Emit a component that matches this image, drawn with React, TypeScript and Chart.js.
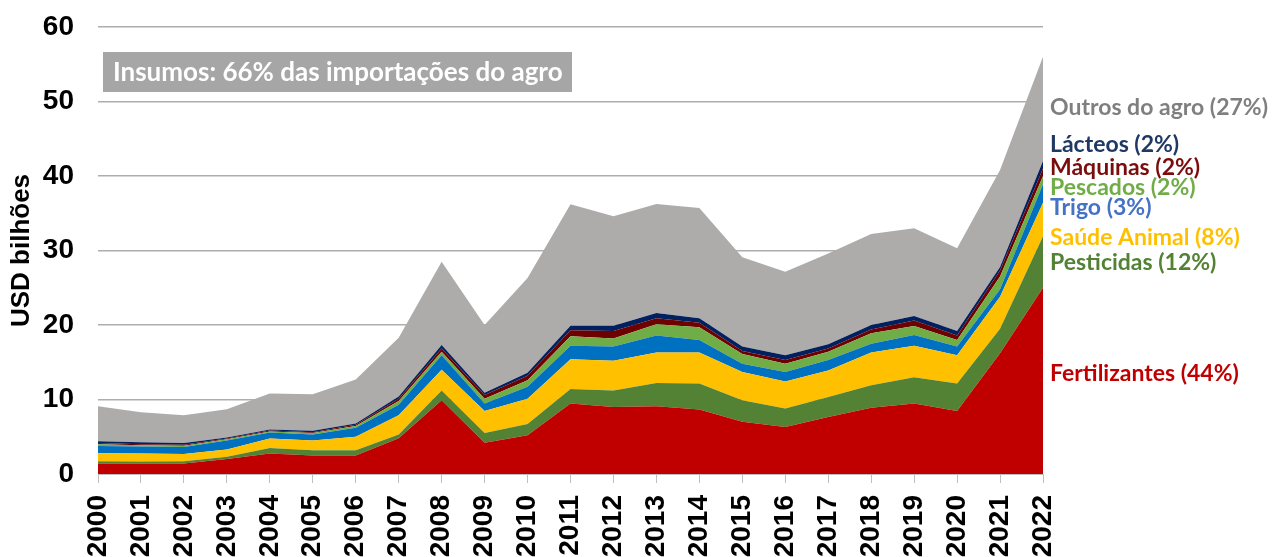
import React, { useEffect, useRef } from "react";
import { Chart, registerables } from "chart.js";

Chart.register(...registerables);

const years = [
  "2000", "2001", "2002", "2003", "2004", "2005", "2006", "2007", "2008", "2009", "2010", "2011",
  "2012", "2013", "2014", "2015", "2016", "2017", "2018", "2019", "2020", "2021", "2022",
];

const fertilizantes = [1.4, 1.4, 1.4, 2.0, 2.74, 2.5, 2.5, 4.8, 9.9, 4.2, 5.2, 9.46, 9.0, 9.1, 8.65, 7.0, 6.3, 7.66, 8.9, 9.46, 8.47, 16.2, 25.0];
const pesticidas = [0.3, 0.27, 0.3, 0.3, 0.76, 0.7, 0.7, 0.5, 1.3, 1.3, 1.5, 1.94, 2.2, 3.1, 3.5, 2.9, 2.5, 2.69, 3.0, 3.54, 3.68, 3.3, 6.9];
const saudeAnimal = [1.08, 1.07, 0.99, 1.0, 1.25, 1.3, 1.8, 2.6, 2.8, 2.97, 3.4, 4.0, 4.0, 4.1, 4.15, 3.8, 3.6, 3.55, 4.4, 4.2, 3.8, 4.3, 4.5];
const trigo = [0.98, 0.94, 0.94, 1.2, 0.81, 0.8, 1.2, 1.4, 1.95, 0.99, 1.6, 1.8, 1.9, 2.3, 1.7, 1.1, 1.3, 1.4, 1.2, 1.45, 1.15, 1.0, 2.5];
const pescados = [0.24, 0.17, 0.17, 0.15, 0.16, 0.2, 0.25, 0.5, 0.45, 0.64, 0.9, 1.3, 1.1, 1.5, 1.7, 1.3, 1.1, 1.1, 1.4, 1.2, 0.9, 1.7, 1.1];
const maquinas = [0.15, 0.13, 0.12, 0.1, 0.11, 0.12, 0.15, 0.3, 0.45, 0.5, 0.6, 0.8, 1.0, 0.8, 0.6, 0.4, 0.5, 0.45, 0.5, 0.75, 0.6, 0.8, 1.0];
const lacteos = [0.25, 0.28, 0.25, 0.15, 0.14, 0.18, 0.17, 0.3, 0.45, 0.3, 0.4, 0.6, 0.7, 0.7, 0.6, 0.6, 0.65, 0.55, 0.6, 0.6, 0.6, 0.5, 1.0];
const outrosDoAgro = [4.7, 4.04, 3.73, 3.8, 4.83, 4.9, 5.93, 7.9, 11.2, 9.1, 12.7, 16.3, 14.7, 14.65, 14.8, 12.0, 11.2, 12.2, 12.2, 11.8, 11.1, 13.0, 14.0];

const seriesNames = ["Fertilizantes", "Pesticidas", "Saúde Animal", "Trigo", "Pescados", "Máquinas", "Lácteos", "Outros do agro"];
const seriesValues = [fertilizantes, pesticidas, saudeAnimal, trigo, pescados, maquinas, lacteos, outrosDoAgro];
const seriesColors = ["#C00000", "#548235", "#FFC000", "#0070C0", "#70AD47", "#6E0000", "#002060", "#AEABAB"];

const endLabels = [
  "Fertilizantes (44%)", "Pesticidas (12%)", "Saúde Animal (8%)", "Trigo (3%)",
  "Pescados (2%)", "Máquinas (2%)", "Lácteos (2%)", "Outros do agro (27%)",
];
const endLabelColors = ["#C00000", "#548235", "#FFC000", "#4472C4", "#70AD47", "#7B0C0C", "#1F3864", "#7F7F7F"];
const endLabelLevels = [13.5, 28.4, 31.8, 35.7, 38.4, 41.1, 44.2, 49.2];

const yTicks = [0, 10, 20, 30, 40, 50, 60];
const yTitle = "USD bilhões";
const boxText = "Insumos: 66% das importações do agro";

const LABEL_FONT = "Lato, 'Open Sans', sans-serif";
const AXIS_FONT = "'Liberation Sans', Arial, sans-serif";

const annotations = {
  id: "annotations",
  afterDatasetsDraw(chart: any) {
    const { ctx, chartArea, scales } = chart;
    ctx.save();
    // grey callout box
    const bx = chartArea.left + 5;
    const by = 52;
    const bw = 469;
    const bh = 40;
    ctx.fillStyle = "#A6A6A6";
    ctx.fillRect(bx, by, bw, bh);
    ctx.fillStyle = "#FFFFFF";
    ctx.font = `bold 26px ${LABEL_FONT}`;
    ctx.textBaseline = "middle";
    ctx.textAlign = "left";
    ctx.fillText(boxText, bx + 10, by + bh / 2 + 1);

    // end labels
    ctx.font = `bold 23px ${LABEL_FONT}`;
    endLabels.forEach((t, i) => {
      ctx.fillStyle = endLabelColors[i];
      ctx.fillText(t, chartArea.right + 7, scales.y.getPixelForValue(endLabelLevels[i]));
    });
    ctx.restore();
  },
};

export default function App() {
  const ref = useRef<HTMLCanvasElement>(null);
  useEffect(() => {
    const canvas = ref.current;
    if (!canvas) return;
    const chart = new Chart(canvas, {
      type: "line",
      data: {
        labels: years,
        datasets: seriesValues.map((vals, i) => ({
          label: seriesNames[i],
          data: vals,
          backgroundColor: seriesColors[i],
          borderColor: seriesColors[i],
          borderWidth: 0,
          fill: i === 0 ? "origin" : "-1",
          pointRadius: 0,
          tension: 0,
        })),
      },
      options: {
        animation: false,
        responsive: false,
        maintainAspectRatio: false,
        layout: { padding: { top: 27, right: 229, left: 0, bottom: 0 } },
        plugins: { legend: { display: false }, tooltip: { enabled: false } },
        scales: {
          x: {
            offset: false,
            grid: { display: true, drawOnChartArea: false, drawTicks: true, tickLength: 9, color: "#BFBFBF", lineWidth: 1 },
            border: { display: true, color: "#BFBFBF" },
            ticks: {
              autoSkip: false,
              minRotation: 90,
              maxRotation: 90,
              padding: 12,
              color: "#000",
              font: { family: AXIS_FONT, weight: "bold", size: 28 },
            },
            afterFit: (s: any) => {
              s.height = 83;
              s.paddingLeft = 0;
              s.paddingRight = 0;
            },
          },
          y: {
            stacked: true,
            min: 0,
            max: 60,
            afterBuildTicks: (s: any) => {
              s.ticks = yTicks.map((v) => ({ value: v }));
            },
            ticks: {
              padding: 24,
              color: "#000",
              font: { family: AXIS_FONT, weight: "bold", size: 28 },
            },
            grid: { color: "#ADADAD", lineWidth: 1.5, drawTicks: false },
            border: { display: false },
            title: {
              display: true,
              text: yTitle,
              color: "#000",
              padding: { top: 6, bottom: 0 },
              font: { family: AXIS_FONT, weight: "bold", size: 26 },
            },
            afterFit: (s: any) => {
              s.width = 98;
              s.paddingTop = 0;
              s.paddingBottom = 0;
            },
          },
        },
      },
      plugins: [annotations],
    });
    return () => chart.destroy();
  }, []);
  return (
    <div style={{ position: "fixed", left: 0, top: 0, width: 1272, height: 557, background: "#fff" }}>
      <canvas ref={ref} width={1272} height={557} style={{ display: "block" }} />
    </div>
  );
}
